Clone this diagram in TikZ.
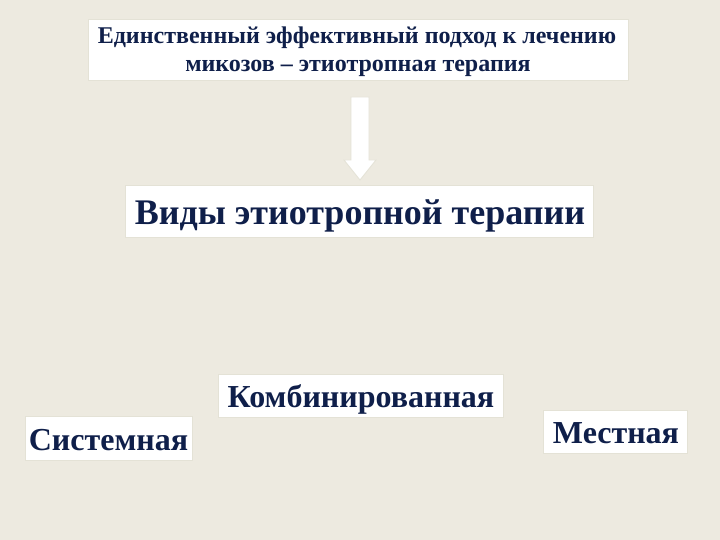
\documentclass[tikz,border=0pt]{standalone}
\usepackage{fontspec}
\setmainfont{Liberation Serif}
\definecolor{bg}{HTML}{EDEAE0}
\definecolor{txt}{HTML}{0F1F4A}
\definecolor{edgec}{HTML}{E4E2D6}
\begin{document}
\begin{tikzpicture}[x=1pt,y=-1pt,
  box/.style={fill=white,draw=edgec,line width=0.6pt,inner sep=0pt,anchor=north west},
  lbl/.style={text=txt,inner sep=0pt,anchor=base},
  big/.style={font=\bfseries\fontsize{32}{36}\selectfont}]
\fill[bg] (0,0) rectangle (720,540);
\useasboundingbox (0,0) rectangle (720,540);
% boxes
\node[box,minimum width=540pt,minimum height=61pt] (top) at (88,19) {};
\node[box,minimum width=468pt,minimum height=52pt] (kinds) at (125,185) {};
\node[box,minimum width=167pt,minimum height=44pt] (sys) at (25,416) {};
\node[box,minimum width=285pt,minimum height=43pt] (comb) at (218,374) {};
\node[box,minimum width=144pt,minimum height=43pt] (loc) at (543,410) {};
% texts
\node[lbl,font=\bfseries\fontsize{24}{28}\selectfont] (t1) at (357,44) {Единственный эффективный подход к лечению};
\node[lbl,font=\bfseries\fontsize{24}{28}\selectfont] (t2) at (358,72) {микозов – этиотропная терапия};
\node[lbl,font=\bfseries\fontsize{36}{40}\selectfont] (tk) at (360,225) {Виды этиотропной терапии};
\node[lbl,big] (ts) at (108.5,450) {Системная};
\node[lbl,big] (tc) at (361,407) {Комбинированная};
\node[lbl,big] (tl) at (616,443) {Местная};
% arrow
\draw[fill=white,draw=edgec,line width=0.8pt] (351,97) -- (369,97) -- (369,160) -- (376,160) -- (360,180) -- (344,160) -- (351,160) -- cycle;
\end{tikzpicture}
\end{document}
